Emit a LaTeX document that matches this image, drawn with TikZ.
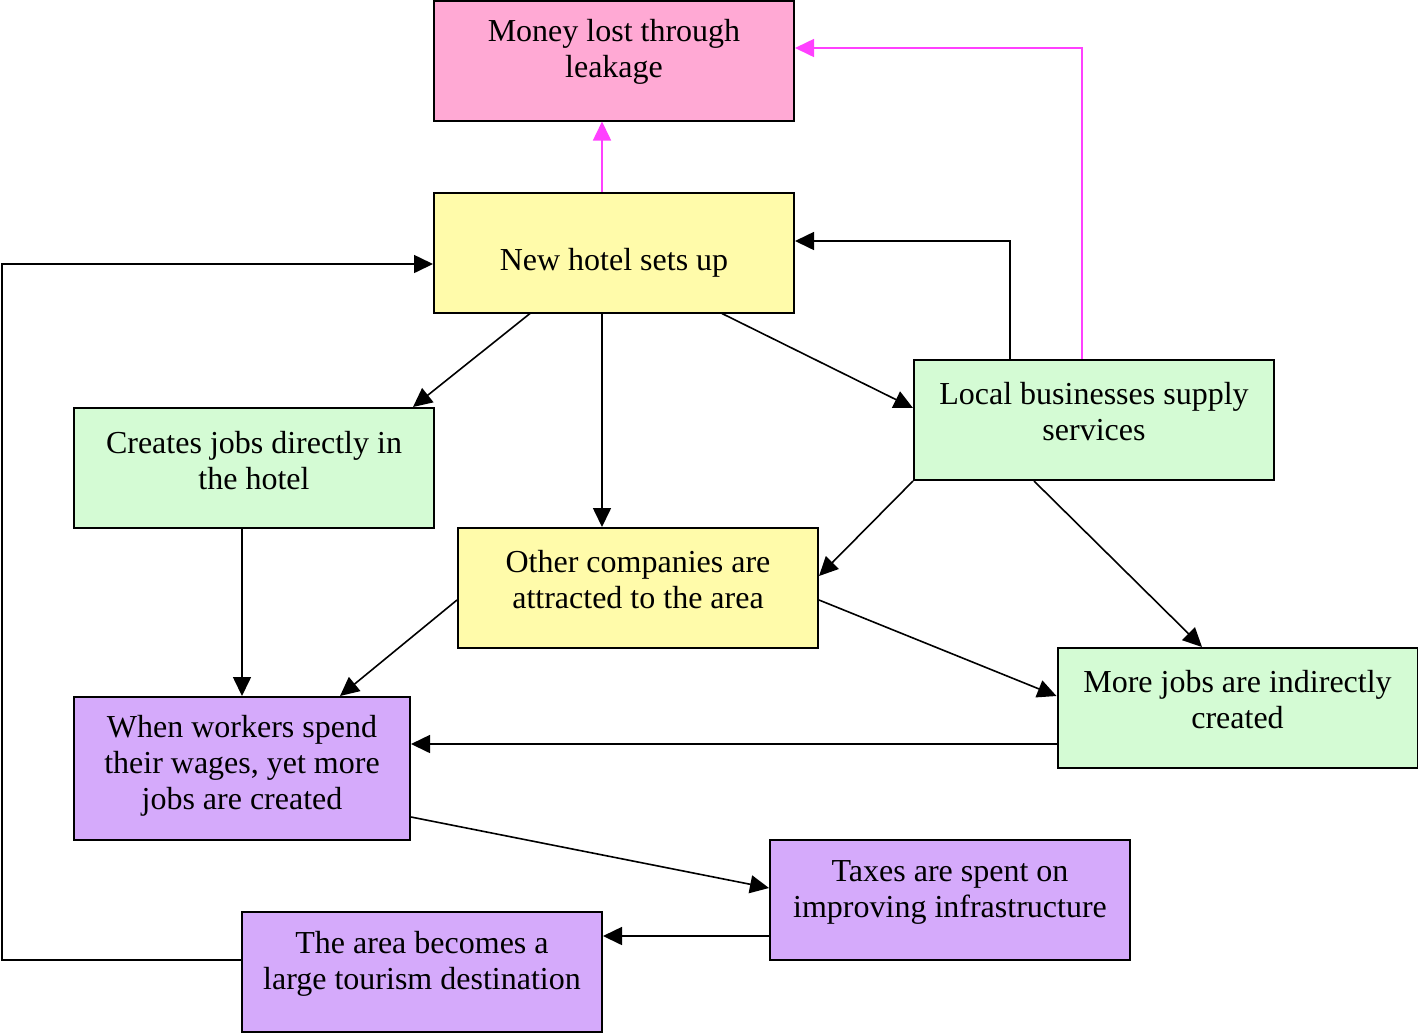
\documentclass[tikz,border=0pt]{standalone}
\usepackage{fontspec}
\setmainfont{Liberation Serif}
\usetikzlibrary{arrows.meta}

\definecolor{leakpink}{HTML}{FFA9D4}
\definecolor{hotelyellow}{HTML}{FFFBAA}
\definecolor{jobgreen}{HTML}{D4FBD4}
\definecolor{spendpurple}{HTML}{D5AAFB}
\definecolor{leakmagenta}{HTML}{FF40FF}

\tikzset{
    box/.style={draw, line width=1pt, minimum width=180pt, minimum height=60pt, inner sep=0pt},
    txt/.style={align=center, font=\fontsize{16}{18}\selectfont, inner sep=0pt},
    link/.style={line width=0.8pt, -{Triangle[length=9.5pt,width=9pt]}},
    leak/.style={link, draw=leakmagenta}
}

\begin{document}
\begin{tikzpicture}[x=0.5pt, y=-0.5pt]
        \useasboundingbox (0,0) rectangle (1418,1035);

        % --- Boxes ---
        \node[box, fill=leakpink, label={[txt,yshift=4.25pt]center:{Money lost through\\leakage}}] (money) at (614,60.5) {};
        \node[box, fill=hotelyellow, label={[txt,yshift=-5pt]center:{New hotel sets up}}] (hotel) at (614,252.5) {};
        \node[box, fill=jobgreen, label={[txt,yshift=3.75pt]center:{Creates jobs directly in\\the hotel}}] (direct) at (254,468) {};
        \node[box, fill=hotelyellow, label={[txt,yshift=4pt]center:{Other companies are\\attracted to the area}}] (other) at (638,588) {};
        \node[box, fill=jobgreen, label={[txt,yshift=4pt]center:{Local businesses supply\\services}}] (local) at (1094,420) {};
        \node[box, fill=jobgreen, label={[txt,yshift=4pt]center:{More jobs are indirectly\\created}}] (indirect) at (1237.5,708) {};
        \node[box, fill=spendpurple, minimum width=168pt, minimum height=71.5pt,
              label={[txt,yshift=1.25pt]center:{When workers spend\\their wages, yet more\\jobs are created}}] (wages) at (242,768.5) {};
        \node[box, fill=spendpurple, label={[txt,yshift=3.75pt]center:{Taxes are spent on\\improving infrastructure}}] (taxes) at (950,900) {};
        \node[box, fill=spendpurple, label={[txt,yshift=4pt]center:{The area becomes a\\large tourism destination}}] (area) at (422,972) {};

        % bend point of the long loop on the left
        \coordinate (loop) at (2,600);

        % --- Leakage (magenta) ---
        \draw[leak] ([xshift=-6pt]hotel.north) -- ([xshift=-6pt]money.south);
        \draw[leak] ([xshift=-6pt]local.north) |- ([yshift=6.25pt]money.east);

        % --- Main links ---
        \draw[link] ([xshift=-42pt]local.north) |- ([yshift=5.75pt]hotel.east);
        \draw[link] ([xshift=-42pt]hotel.south) -- ([xshift=-11pt]direct.north east);
        \draw[link] ([xshift=-6pt]hotel.south) -- ([xshift=-18pt]other.north);
        \draw[link] ([xshift=54pt]hotel.south) -- ([yshift=6pt]local.west);
        \draw[link] (local.south west) -- ([yshift=6pt]other.east);
        \draw[link] ([xshift=-30pt]local.south) -- ([xshift=-17.75pt]indirect.north);
        \draw[link] (wages.north |- direct.south) -- (wages.north);
        \draw[link] ([yshift=-6pt]other.west) -- ([xshift=49pt]wages.north);
        \draw[link] ([yshift=-6pt]other.east) -- ([yshift=6pt]indirect.west);
        \draw[link] ([yshift=-18pt]indirect.west) -- ([yshift=12.25pt]wages.east);
        \draw[link] ([yshift=-24.25pt]wages.east) -- ([yshift=6pt]taxes.west);
        \draw[link] ([yshift=-18pt]taxes.west) -- ([yshift=18pt]area.east);
        \draw[link] ([yshift=6pt]area.west) -| (loop) |- ([yshift=-5.75pt]hotel.west);

\end{tikzpicture}
\end{document}
